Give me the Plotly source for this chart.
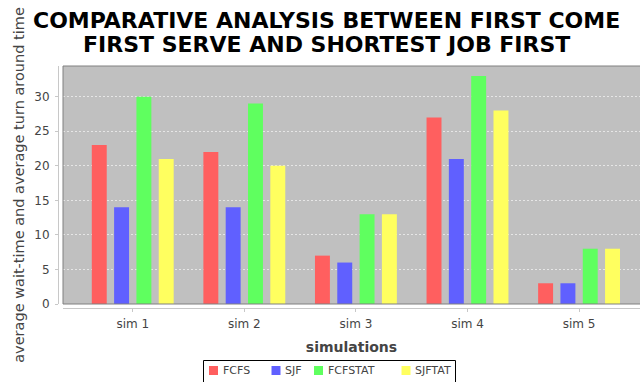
import plotly.graph_objects as go

categories = ["sim 1", "sim 2", "sim 3", "sim 4", "sim 5"]
fcfs = [23, 22, 7, 27, 3]
sjf = [14, 14, 6, 21, 3]
fcfstat = [30, 29, 13, 33, 8]
sjftat = [21, 20, 13, 28, 8]
series_names = ["FCFS", "SJF", "FCFSTAT", "SJFTAT"]
title_lines = ["COMPARATIVE ANALYSIS BETWEEN FIRST COME", "FIRST SERVE AND SHORTEST JOB FIRST"]

series_values = [fcfs, sjf, fcfstat, sjftat]
colors = ["#FF5F5F", "#6060FF", "#5FFF5F", "#FFFF5F"]

W, H = 640, 382
ml, mr, mt, mb = 58, 0, 66, 74
pw = W - ml - mr
ph = H - mt - mb


def px_x(px):
    return (px - ml) / pw


def px_y(py):
    return (H - mb - py) / ph


fig = go.Figure()
for name, vals, col in zip(series_names, series_values, colors):
    fig.add_trace(go.Bar(
        x=categories, y=vals, name=name,
        marker=dict(color=col, line=dict(width=0)),
        showlegend=False,
    ))

fig.update_layout(
    width=W, height=H,
    margin=dict(l=ml, r=mr, t=mt, b=mb, pad=0),
    paper_bgcolor="white",
    plot_bgcolor="#C0C0C0",
    barmode="group",
    bargap=0.2,
    bargroupgap=0.33,
    font=dict(family="DejaVu Sans", color="#444444", size=12),
    xaxis=dict(
        domain=[5 / pw, 1],
        anchor="free", position=0,
        range=[-0.625, 4.546],
        showgrid=False,
        showline=True, linecolor="#C8C8C8", linewidth=1,
        ticks="outside", ticklen=3, tickcolor="#C8C8C8",
        ticklabelstandoff=2,
        tickfont=dict(size=12, color="#444444"),
        title=dict(text="simulations", font=dict(size=14, color="#444444", weight="bold"), standoff=11),
        zeroline=False,
    ),
    yaxis=dict(
        domain=[4 / ph, 1],
        anchor="free", position=0,
        range=[0, 34.44],
        tickvals=[0, 5, 10, 15, 20, 25, 30],
        showgrid=True, gridcolor="#E6E6E6", griddash="2px,2px", gridwidth=1,
        showline=True, linecolor="#C8C8C8", linewidth=1,
        ticks="outside", ticklen=3, tickcolor="#C8C8C8",
        ticklabelstandoff=3,
        tickfont=dict(size=12, color="#444444"),
        title=dict(text="average wait-time and average turn around time", font=dict(size=14.5, color="#444444"), standoff=5),
        zeroline=False,
    ),
    showlegend=False,
)

# title (two centred lines)
for line, cy in zip(title_lines, [20.5, 45]):
    fig.add_annotation(
        text=line, xref="paper", yref="paper",
        x=px_x(326), y=px_y(cy), xanchor="center", yanchor="middle",
        showarrow=False,
        font=dict(family="DejaVu Sans", size=22, color="black", weight="bold"),
    )

# plot border
fig.add_shape(type="line", xref="x domain", yref="y domain", x0=0, x1=1, y0=1, y1=1,
              line=dict(color="#808080", width=1))
fig.add_shape(type="line", xref="x domain", yref="y domain", x0=0, x1=0, y0=0, y1=1,
              line=dict(color="#808080", width=1))
fig.add_shape(type="line", xref="x domain", yref="y domain", x0=0, x1=1, y0=0, y1=0,
              line=dict(color="#808080", width=1))

# legend box (JFreeChart style)
legend_left, legend_right, legend_top, legend_bottom = 203.5, 455.5, 360.5, 390
fig.add_shape(type="rect", xref="paper", yref="paper",
              x0=px_x(legend_left), x1=px_x(legend_right),
              y0=px_y(legend_bottom), y1=px_y(legend_top),
              line=dict(color="black", width=1), fillcolor="white", layer="above")
legend_square_x = [209, 271.5, 314, 401.5]
legend_cy = 370.5
for name, col, sx in zip(series_names, colors, legend_square_x):
    fig.add_shape(type="rect", xref="paper", yref="paper",
                  x0=px_x(sx), x1=px_x(sx + 9),
                  y0=px_y(legend_cy + 4.5), y1=px_y(legend_cy - 4.5),
                  line=dict(width=0), fillcolor=col, layer="above")
    fig.add_annotation(
        text=name, xref="paper", yref="paper",
        x=px_x(sx + 11.5), y=px_y(legend_cy), xanchor="left", yanchor="middle",
        showarrow=False, font=dict(size=11, color="#444444"),
    )

fig.write_html("out.html")
